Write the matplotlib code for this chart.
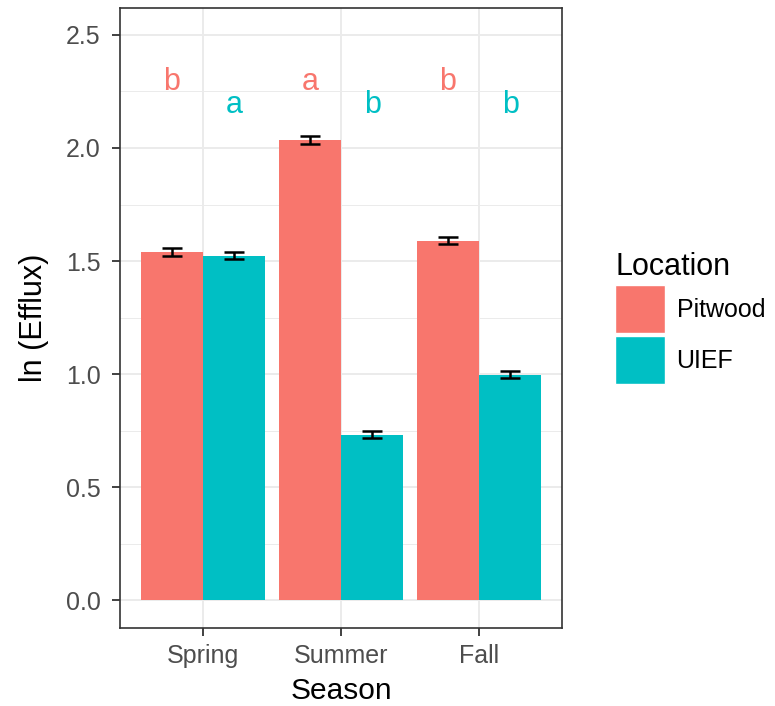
import numpy as np
import matplotlib.pyplot as plt
from matplotlib.patches import Patch

plt.rcParams["font.family"] = ["Liberation Sans", "DejaVu Sans"]

seasons = ["Spring", "Summer", "Fall"]
locations = ["Pitwood", "UIEF"]
pitwood = [1.54, 2.035, 1.59]
uief = [1.523, 0.732, 0.998]
pitwood_err = [0.016, 0.016, 0.016]
uief_err = [0.016, 0.016, 0.016]
pitwood_letters = ["b", "a", "b"]
uief_letters = ["a", "b", "b"]
pitwood_letter_y = 2.29
uief_letter_y = 2.19

colors = {"Pitwood": "#F8766D", "UIEF": "#00BFC4"}

fig = plt.figure(figsize=(7.75, 7.06), dpi=100)
ax = fig.add_axes([0.155, 0.110, 0.570, 0.879])

x = np.arange(1, len(seasons) + 1)
w = 0.45
for vals, errs, loc, off in [(pitwood, pitwood_err, "Pitwood", -w / 2),
                             (uief, uief_err, "UIEF", w / 2)]:
    ax.bar(x + off, vals, width=w, color=colors[loc], zorder=2)
    ax.errorbar(x + off, vals, yerr=errs, fmt="none", ecolor="black",
                elinewidth=1.8, capsize=7, capthick=1.8, zorder=3)

for i in range(len(seasons)):
    ax.text(x[i] - w / 2, pitwood_letter_y, pitwood_letters[i], color=colors["Pitwood"],
            fontsize=22, ha="center", va="center")
    ax.text(x[i] + w / 2, uief_letter_y, uief_letters[i], color=colors["UIEF"],
            fontsize=22, ha="center", va="center")

ax.set_xlim(0.4, 3.6)
ax.set_ylim(-0.124, 2.62)
ax.set_xticks(x)
ax.set_xticklabels(seasons)
ax.set_yticks([0, 0.5, 1.0, 1.5, 2.0, 2.5])
ax.set_yticklabels(["0.0", "0.5", "1.0", "1.5", "2.0", "2.5"])
ax.set_yticks([0.25, 0.75, 1.25, 1.75, 2.25], minor=True)

ax.grid(True, which="major", color="#EBEBEB", linewidth=1.4, zorder=0)
ax.grid(True, which="minor", axis="y", color="#EBEBEB", linewidth=0.7, zorder=0)
ax.set_axisbelow(True)
ax.tick_params(axis="both", which="major", labelsize=18, labelcolor="#4D4D4D",
               color="#333333", length=5.5, width=1.3)
ax.tick_params(axis="x", which="major", pad=6)
ax.tick_params(axis="y", which="major", pad=8.5)
ax.tick_params(axis="both", which="minor", length=0)
for s in ax.spines.values():
    s.set_color("#333333")
    s.set_linewidth(1.2)

ax.set_xlabel("Season", fontsize=21.5, labelpad=6)
ax.set_ylabel("ln (Efflux)", fontsize=22, labelpad=12)

handles = [Patch(facecolor=colors[l], edgecolor="white", label=l) for l in locations]
leg = fig.legend(handles=handles, title="Location", loc="upper left",
                 bbox_to_anchor=(0.794, 0.643), frameon=False, fontsize=18,
                 title_fontsize=22, handlelength=2.0, handleheight=2.58,
                 handletextpad=0.45, labelspacing=0.12, borderpad=0,
                 borderaxespad=0)
leg._legend_box.align = "left"

fig.savefig("out.png", dpi=100)
